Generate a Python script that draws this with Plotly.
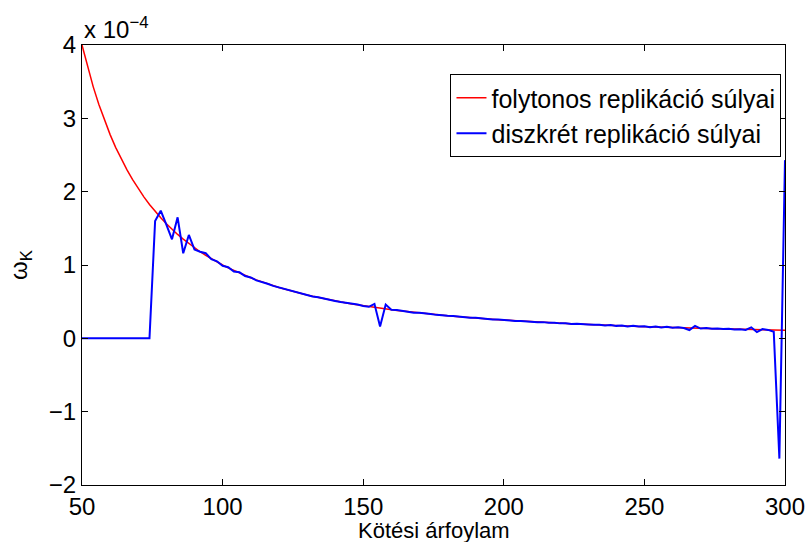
import plotly.graph_objects as go

# Strike grid (step 2)
strikes = list(range(50, 301, 2))

# Continuous replication weights (x 1e-4)
w_continuous = [
    4.000, 3.698, 3.429, 3.189, 2.973, 2.778, 2.601, 2.441, 2.296, 2.163,
    2.041, 1.929, 1.826, 1.731, 1.644, 1.563, 1.487, 1.417, 1.352, 1.291,
    1.235, 1.181, 1.132, 1.085, 1.041, 1.000, 0.961, 0.925, 0.890, 0.857,
    0.826, 0.797, 0.769, 0.743, 0.718, 0.694, 0.672, 0.650, 0.630, 0.610,
    0.592, 0.574, 0.557, 0.541, 0.525, 0.510, 0.496, 0.482, 0.469, 0.457,
    0.444, 0.433, 0.422, 0.411, 0.401, 0.391, 0.381, 0.372, 0.363, 0.354,
    0.346, 0.338, 0.330, 0.323, 0.316, 0.309, 0.302, 0.295, 0.289, 0.283,
    0.277, 0.271, 0.266, 0.260, 0.255, 0.250, 0.245, 0.240, 0.236, 0.231,
    0.227, 0.222, 0.218, 0.214, 0.210, 0.207, 0.203, 0.199, 0.196, 0.192,
    0.189, 0.186, 0.183, 0.180, 0.177, 0.174, 0.171, 0.168, 0.165, 0.163,
    0.160, 0.157, 0.155, 0.153, 0.150, 0.148, 0.146, 0.143, 0.141, 0.139,
    0.137, 0.135, 0.133, 0.131, 0.129, 0.128, 0.126, 0.124, 0.122, 0.121,
    0.119, 0.117, 0.116, 0.114, 0.113, 0.111,
]

# Discrete replication weights (x 1e-4)
w_discrete = [
    0, 0, 0, 0, 0, 0, 0, 0, 0, 0,
    0, 0, 0, 1.60, 1.74, 1.55, 1.35, 1.65, 1.16, 1.41,
    1.21, 1.18, 1.16, 1.08, 1.05, 0.99, 0.97, 0.91, 0.90, 0.85,
    0.83, 0.79, 0.77, 0.745, 0.715, 0.695, 0.67, 0.655, 0.625, 0.61,
    0.595, 0.57, 0.56, 0.54, 0.525, 0.51, 0.495, 0.485, 0.465, 0.46,
    0.44, 0.43, 0.47, 0.16, 0.46, 0.39, 0.385, 0.37, 0.365, 0.35,
    0.348, 0.335, 0.331, 0.32, 0.318, 0.307, 0.303, 0.293, 0.29, 0.281,
    0.279, 0.269, 0.267, 0.258, 0.257, 0.249, 0.247, 0.238, 0.238, 0.229,
    0.229, 0.22, 0.221, 0.211, 0.213, 0.204, 0.206, 0.196, 0.199, 0.19,
    0.19, 0.184, 0.186, 0.176, 0.182, 0.17, 0.176, 0.162, 0.17, 0.16,
    0.165, 0.152, 0.162, 0.148, 0.157, 0.146, 0.15, 0.14, 0.113, 0.17,
    0.133, 0.14, 0.13, 0.134, 0.126, 0.13, 0.12, 0.125, 0.115, 0.15,
    0.086, 0.127, 0.115, 0.09, -1.64, 2.43,
]

x_ticks = [50, 100, 150, 200, 250, 300]
y_ticks = [-2, -1, 0, 1, 2, 3, 4]
y_tick_text = ["\u22122", "\u22121", "0", "1", "2", "3", "4"]

FONT = "Liberation Sans, Arial, Helvetica, sans-serif"
FS = 24

fig = go.Figure()
fig.add_trace(go.Scatter(
    x=strikes, y=w_continuous, mode="lines",
    name="folytonos replikáció súlyai",
    line=dict(color="#ff0000", width=1.5),
))
fig.add_trace(go.Scatter(
    x=strikes, y=w_discrete, mode="lines",
    name="diszkrét replikáció súlyai",
    line=dict(color="#0000ff", width=2),
))

axis_common = dict(
    showline=True, linecolor="black", linewidth=1, mirror="allticks",
    ticks="inside", ticklen=6, tickcolor="black", tickwidth=1,
    showgrid=False, zeroline=False, automargin=False,
    tickfont=dict(family=FONT, size=FS, color="black"),
)

fig.update_layout(
    width=808, height=542,
    margin=dict(l=82, r=23, t=45, b=57),
    paper_bgcolor="white", plot_bgcolor="white",
    font=dict(family=FONT, size=FS, color="black"),
    xaxis=dict(range=[50, 300], tickvals=x_ticks, **axis_common),
    yaxis=dict(
        range=[-2, 4], tickvals=y_ticks, ticktext=y_tick_text,
        title=dict(text="ω<sub>K</sub>", font=dict(size=FS), standoff=14),
        **axis_common,
    ),
    legend=dict(
        x=0.995, y=0.934, xanchor="right", yanchor="top",
        bordercolor="black", borderwidth=1, bgcolor="white",
        font=dict(size=25, family=FONT, color="black"),
        tracegroupgap=0,
    ),
    showlegend=True,
    annotations=[
        dict(
            text="x 10<sup>\u22124</sup>", x=0, y=1.0, xref="paper", yref="paper",
            xanchor="left", yanchor="bottom", showarrow=False,
            font=dict(size=FS, family=FONT, color="black"),
        ),
        # x-axis title placed just below the tick labels
        dict(
            text="Kötési árfoylam", x=0.5, y=0, xref="paper", yref="paper",
            xanchor="center", yanchor="top", yshift=-31, showarrow=False,
            font=dict(size=22, family=FONT, color="black"),
        ),
    ],
)

fig.write_html("out.html")
